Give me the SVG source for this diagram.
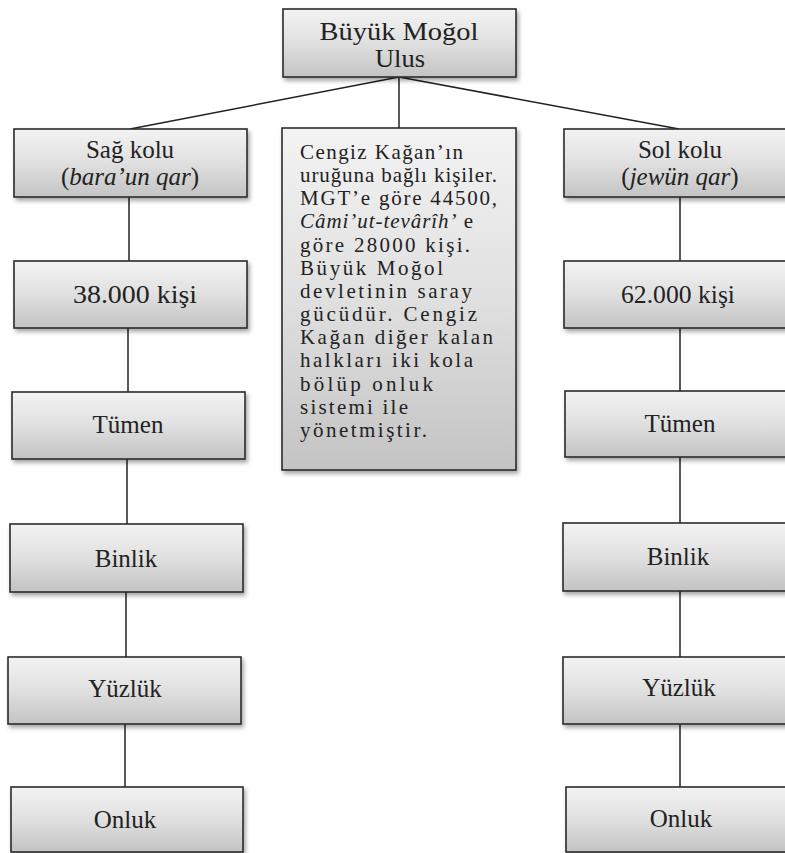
<svg xmlns="http://www.w3.org/2000/svg" width="785" height="853" viewBox="0 0 785 853">
  <defs>
    <linearGradient id="boxFill" x1="0" y1="0" x2="0" y2="1">
      <stop offset="0" stop-color="#f3f3f3"/>
      <stop offset="0.5" stop-color="#e0e0e0"/>
      <stop offset="1" stop-color="#c3c3c3"/>
    </linearGradient>
    <filter id="shadow" x="-10%" y="-10%" width="125%" height="130%">
      <feDropShadow dx="2" dy="3" stdDeviation="2" flood-color="#000" flood-opacity="0.35"/>
    </filter>
  </defs>
  <style>
    .box { fill: url(#boxFill); stroke: #2b2b2b; stroke-width: 1.6; filter: url(#shadow); }
    .lbl { font-family: "Liberation Serif", "Times New Roman", serif; font-size: 25px; fill: #222; text-anchor: middle; }
    .top { font-size: 25px; }
    .body { font-family: "Liberation Serif", "Times New Roman", serif; font-size: 21px; fill: #222; }
    .it { font-style: italic; }
    .conn { stroke: #222; stroke-width: 1.5; fill: none; }
  </style>
  <rect width="785" height="853" fill="#fff"/>

  <!-- connectors -->
  <g id="connectors">
    <line class="conn" x1="399" y1="77" x2="130" y2="129"/>
    <line class="conn" x1="399" y1="77" x2="679" y2="129"/>
    <line class="conn" x1="399" y1="77" x2="399" y2="128"/>
    <line class="conn" x1="129" y1="197" x2="129" y2="261"/>
    <line class="conn" x1="128" y1="328" x2="128" y2="392"/>
    <line class="conn" x1="127" y1="459" x2="127" y2="524"/>
    <line class="conn" x1="126" y1="592" x2="126" y2="657"/>
    <line class="conn" x1="125" y1="724" x2="125" y2="787"/>
    <line class="conn" x1="680" y1="197" x2="680" y2="261"/>
    <line class="conn" x1="680" y1="328" x2="680" y2="391"/>
    <line class="conn" x1="680" y1="457" x2="680" y2="523"/>
    <line class="conn" x1="680" y1="591" x2="680" y2="657"/>
    <line class="conn" x1="680" y1="724" x2="680" y2="787"/>
  </g>

  <!-- root -->
  <g id="root">
    <rect class="box" x="283" y="9" width="233" height="68"/>
    <text class="lbl top" x="399" y="40" textLength="159" lengthAdjust="spacingAndGlyphs">Büyük Moğol</text>
    <text class="lbl top" x="400" y="67" textLength="50" lengthAdjust="spacingAndGlyphs">Ulus</text>
  </g>

  <!-- left branch -->
  <g id="sag-kolu">
    <rect class="box" x="14" y="129" width="233" height="68"/>
    <text class="lbl" x="130" y="158">Sağ kolu</text>
    <text class="lbl" x="130" y="185">(<tspan class="it">bara’un qar</tspan>)</text>
  </g>
  <g id="sag-kisi">
    <rect class="box" x="14" y="261" width="233" height="67"/>
    <text class="lbl" x="135" y="303" textLength="124" lengthAdjust="spacingAndGlyphs">38.000 kişi</text>
  </g>
  <g id="sag-tumen">
    <rect class="box" x="12" y="392" width="233" height="67"/>
    <text class="lbl" x="128" y="433">Tümen</text>
  </g>
  <g id="sag-binlik">
    <rect class="box" x="10" y="524" width="233" height="68"/>
    <text class="lbl" x="126" y="567">Binlik</text>
  </g>
  <g id="sag-yuzluk">
    <rect class="box" x="8" y="657" width="233" height="67"/>
    <text class="lbl" x="125" y="697">Yüzlük</text>
  </g>
  <g id="sag-onluk">
    <rect class="box" x="11" y="787" width="232" height="65"/>
    <text class="lbl" x="125" y="828">Onluk</text>
  </g>

  <!-- note box -->
  <g id="aciklama">
    <rect class="box" x="282" y="128" width="234" height="342"/>
    <text class="body" x="300" y="159" textLength="163" lengthAdjust="spacing">Cengiz Kağan’ın</text>
    <text class="body" x="300" y="182" textLength="197" lengthAdjust="spacing">uruğuna bağlı kişiler.</text>
    <text class="body" x="300" y="205" textLength="197" lengthAdjust="spacing">MGT’e göre 44500,</text>
    <text class="body" x="300" y="228" textLength="173" lengthAdjust="spacing"><tspan class="it">Câmi’ut-tevârîh’</tspan> e</text>
    <text class="body" x="300" y="252" textLength="170" lengthAdjust="spacing">göre 28000 kişi.</text>
    <text class="body" x="300" y="275" textLength="143" lengthAdjust="spacing">Büyük Moğol</text>
    <text class="body" x="300" y="298" textLength="172" lengthAdjust="spacing">devletinin saray</text>
    <text class="body" x="300" y="321" textLength="177" lengthAdjust="spacing">gücüdür. Cengiz</text>
    <text class="body" x="300" y="344" textLength="193" lengthAdjust="spacing">Kağan diğer kalan</text>
    <text class="body" x="300" y="367" textLength="173" lengthAdjust="spacing">halkları iki kola</text>
    <text class="body" x="300" y="391" textLength="133" lengthAdjust="spacing">bölüp onluk</text>
    <text class="body" x="300" y="414" textLength="108" lengthAdjust="spacing">sistemi ile</text>
    <text class="body" x="300" y="437" textLength="127" lengthAdjust="spacing">yönetmiştir.</text>
  </g>

  <!-- right branch -->
  <g id="sol-kolu">
    <rect class="box" x="564" y="129" width="233" height="68"/>
    <text class="lbl" x="680" y="158">Sol kolu</text>
    <text class="lbl" x="680" y="185">(<tspan class="it">jewün qar</tspan>)</text>
  </g>
  <g id="sol-kisi">
    <rect class="box" x="564" y="261" width="233" height="67"/>
    <text class="lbl" x="678" y="303" textLength="114" lengthAdjust="spacingAndGlyphs">62.000 kişi</text>
  </g>
  <g id="sol-tumen">
    <rect class="box" x="565" y="391" width="233" height="66"/>
    <text class="lbl" x="680" y="432">Tümen</text>
  </g>
  <g id="sol-binlik">
    <rect class="box" x="563" y="523" width="233" height="68"/>
    <text class="lbl" x="678" y="565">Binlik</text>
  </g>
  <g id="sol-yuzluk">
    <rect class="box" x="563" y="657" width="233" height="67"/>
    <text class="lbl" x="679" y="696">Yüzlük</text>
  </g>
  <g id="sol-onluk">
    <rect class="box" x="566" y="787" width="233" height="65"/>
    <text class="lbl" x="681" y="827">Onluk</text>
  </g>
</svg>
